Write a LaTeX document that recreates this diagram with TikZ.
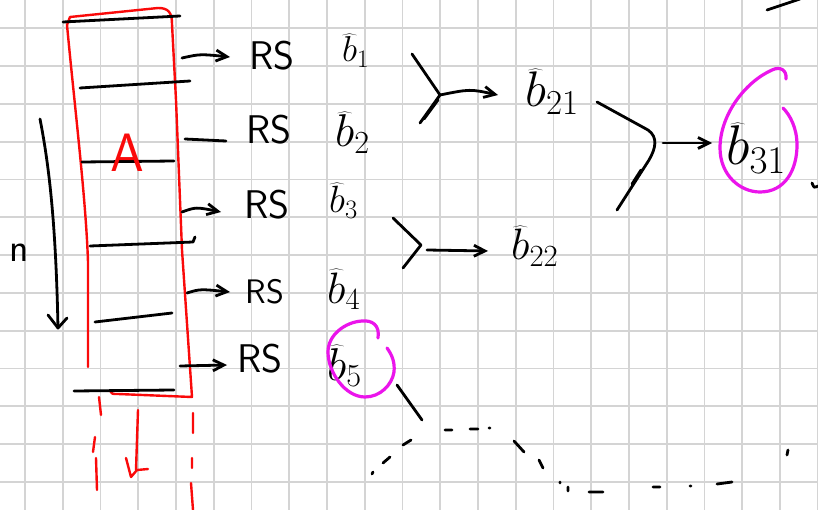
\RequirePackage{fix-cm}
\documentclass[tikz,border=0pt]{standalone}
\usepackage{fontspec}
\usetikzlibrary{arrows.meta}
\definecolor{gridgray}{RGB}{212,212,212}
\definecolor{mag}{RGB}{235,20,235}
\definecolor{redpen}{RGB}{250,10,10}
\begin{document}
\begin{tikzpicture}[x=1pt,y=-1pt,
  ink/.style={line width=2.8pt, line cap=round, line join=round, black},
  redink/.style={line width=2.4pt, line cap=round, line join=round, redpen},
  loopink/.style={line width=3.2pt, line cap=round, line join=round, mag},
  gridline/.style={line width=1.8pt, gridgray},
  tip/.style={-{Straight Barb[length=11pt,width=11pt,line width=2.8pt]}},
  rs/.style={inner sep=0pt, font=\sffamily\fontsize{40}{40}\selectfont},
  lbl/.style={inner sep=0pt, anchor=base west}
]
\useasboundingbox (0,0) rectangle (818,510);
\fill[white] (0,0) rectangle (818,510);
% grid paper
\foreach \k in {0,...,21} \draw[gridline] ({25+37.75*\k},0) -- ({25+37.75*\k},510);
\foreach \k in {0,...,12} \draw[gridline] (0,{28.3+37.8*\k}) -- (818,{28.3+37.8*\k});

% red matrix outline
\draw[redink] (88,367) -- (88,262) .. controls (86,200) and (75,110) .. (67,25) -- (70,17) -- (158,8)
  .. controls (168,8) and (172,12) .. (172,24) -- (176,100) -- (182,250) -- (192,397) -- (118,394)
  .. controls (112,394) .. (110,391);
% row separators
\draw[ink] (63,22) -- (180,16);
\draw[ink] (80,88) -- (190,81);
\draw[ink] (82,162) -- (174,161);
\draw[ink] (90,246) -- (193,242) -- (195,237);
\draw[ink] (95,322) -- (172,313);
\draw[ink] (74,391) -- (174,390);
\node[inner sep=0pt, text=redpen, font=\sffamily\fontsize{54}{54}\selectfont] (A) at (127,153) {A};

% n and arrow
\node[inner sep=0pt, font=\sffamily\fontsize{40}{40}\selectfont] (n) at (19,253) {n};
\coordinate (n1) at (40,119);
\coordinate (n2) at (58,328);
\draw[ink] (n1) .. controls (50,170) and (56,230) .. (n2);
\draw[ink] (48,315) -- (n2) -- (67,318);

% red dashed continuation and red arrow
\draw[redink] (99,397) -- (101,415) (95,437) -- (93,452) (96,458) -- (97,490);
\draw[redink] (193,413) -- (193,433) (192,458) -- (192,468) (191,483) -- (193,510);
\coordinate (d1) at (138,410);
\coordinate (d2) at (136,470);
\draw[redink] (d1) -- (d2);
\draw[redink] (126,458) -- (131,477) -- (137,470) -- (148,469);

% RS labels
\node[rs] (rs1) at (272,56) {RS};
\node[rs] (rs2) at (269,130) {RS};
\node[rs] (rs3) at (267,205) {RS};
\node[rs, font=\sffamily\fontsize{34}{34}\selectfont] (rs4) at (265,292) {RS};
\node[rs] (rs5) at (260,359) {RS};

% row arrows
\coordinate (m1) at (182,58);  \coordinate (e1) at (230,57);
\coordinate (m2) at (185,139); \coordinate (e2) at (226,141);
\coordinate (m3) at (182,212); \coordinate (e3) at (221,212);
\coordinate (m4) at (187,293); \coordinate (e4) at (230,292);
\coordinate (m5) at (180,366); \coordinate (e5) at (227,365);
\draw[ink,tip] (m1) .. controls (200,54) .. (e1);
\draw[ink] (m2) -- (e2);
\draw[ink,tip] (m3) .. controls (196,207) .. (e3);
\draw[ink,tip] (m4) .. controls (200,289) .. (e4);
\draw[ink,tip] (m5) -- (e5);

% b hats
\node[lbl, font=\fontsize{36}{36}\selectfont] (b1) at (342,62) {$\widehat{b}_1$};
\node[lbl, font=\fontsize{46}{46}\selectfont] (b2) at (335,147) {$\widehat{b}_2$};
\node[lbl, font=\fontsize{38}{38}\selectfont] (b3) at (329,213) {$\widehat{b}_3$};
\node[lbl, font=\fontsize{44}{44}\selectfont] (b4) at (327,303) {$\widehat{b}_4$};
\node[lbl, font=\fontsize{46}{46}\selectfont] (b5) at (327,380) {$\widehat{b}_5$};
\node[lbl, font=\fontsize{50}{50}\selectfont] (b21) at (525,107) {$\widehat{b}_{21}$};
\node[lbl, font=\fontsize{44}{44}\selectfont] (b22) at (511,260) {$\widehat{b}_{22}$};
\node[lbl, font=\fontsize{56}{56}\selectfont] (b31) at (726,165) {$\widehat{b}_{31}$};

% merge bracket 1
\coordinate (j1) at (440,95);
\coordinate (f1) at (498,95);
\draw[ink] (412,54) -- (j1) -- (420,123);
\draw[ink] (424,119) -- (438,100);
\draw[ink,tip] (j1) .. controls (470,89) .. (f1);
% merge bracket 2
\coordinate (j2) at (421,245);
\coordinate (s2) at (427,250);
\coordinate (f2) at (488,251);
\draw[ink] (393,218) -- (j2) -- (403,268);
\draw[ink,tip] (s2) -- (f2);
% merge bracket 3
\coordinate (s3) at (663,143);
\coordinate (f3) at (712,143);
\draw[ink] (597,102) -- (648,130) .. controls (658,137) and (656,148) .. (649,160) -- (617,210);
\draw[ink] (632,184) -- (641,170);
\draw[ink,tip] (s3) -- (f3);

% magenta loops
\draw[loopink] (378,338) .. controls (380,325) and (372,320) .. (362,321)
  .. controls (345,322) and (328,335) .. (328,352)
  .. controls (328,372) and (345,397) .. (365,397)
  .. controls (380,397) and (392,385) .. (394,372)
  .. controls (395,362) and (392,355) .. (387,348);
\draw[loopink] (786,79) .. controls (787,70) and (780,66) .. (772,70)
  .. controls (745,82) and (720,115) .. (720,148)
  .. controls (720,175) and (740,192) .. (760,192)
  .. controls (785,192) and (797,170) .. (797,145)
  .. controls (797,128) and (790,115) .. (783,108);

% dashed continuation from b5
\coordinate (t0) at (397,385);
\coordinate (t1) at (422,420);
\draw[ink] (t0) -- (t1);
\draw[ink] (372,474) -- (373,472) (383,463) -- (390,457) (403,445) -- (411,440)
  (445,430) -- (452,430) (470,429) -- (478,429) (489,428) -- (490,428)
  (514,441) -- (524,452) (539,460) -- (543,468) (560,482) -- (560,483)
  (568,487) -- (568,491) (589,492) -- (603,492) (653,487) -- (660,487)
  (690,486) -- (691,486) (717,484) -- (732,482) (788,450) -- (787,455);

% stray strokes
\draw[ink] (767,10) -- (800,-1);
\draw[ink] (812,183) .. controls (814,188) .. (818,186);
\end{tikzpicture}
\end{document}
